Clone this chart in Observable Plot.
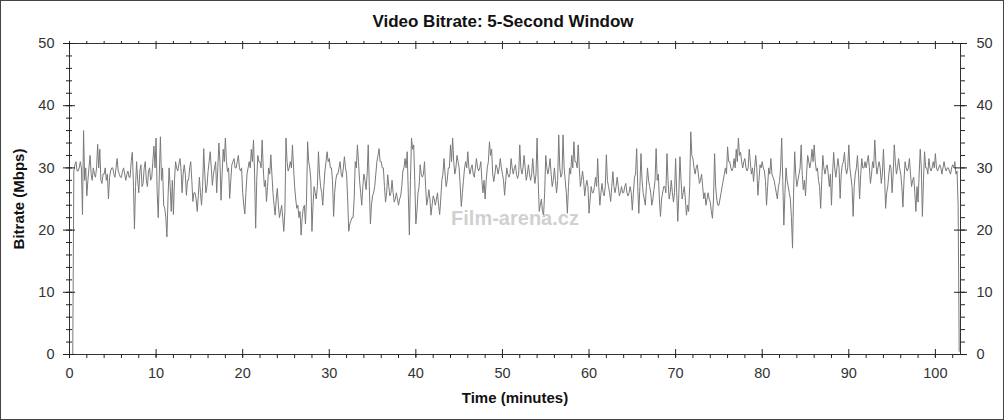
<!DOCTYPE html>
<html><head><meta charset="utf-8">
<script src="https://cdn.jsdelivr.net/npm/d3@7"></script>
<script src="https://cdn.jsdelivr.net/npm/@observablehq/plot@0.6"></script>
<style>
html,body{margin:0;padding:0;background:#fff;}
#chart svg{display:block;outline:1px solid #444;outline-offset:-1px;}
</style></head><body><div id="chart"></div>
<script>
const title = "Video Bitrate: 5-Second Window";
const xLabel = "Time (minutes)";
const yLabel = "Bitrate (Mbps)";
const watermark = "Film-arena.cz";
const stepMinutes = 0.125;
// bitrate in Mbps, one value every 0.125 minute (8 per row = 1 minute)
const bitrate = [
0,0,0,0,29.5,30.5,31,29.5,
29.5,30,31,30,22.5,36,28,30,
25.5,28,30,32,29,28,30,29,
28.5,30,33.8,30,33,28,27.5,29,
29,30,28,29,25,28.5,29.5,30,
30,29,28.5,30,31.5,29.5,29,28.5,
28.5,29.5,30,29,28,29,29.5,28.5,
28.5,31,32.5,28,20.2,27,31,28,
26,29.5,30.5,27,27.5,30,31,28,
27,29.5,30,28,28.5,31,33.5,30,
34.8,26,22,29,35,28,30,24,
23.5,22,18.9,25,30,27,23,28,
22.5,28,31,30,29.5,30.5,31.5,30,
26,29,30.5,29,25.6,28,28,30,
31,28,24.6,26,26,25,23,25.5,
28.5,26,24,27,33.1,29,26,27,
29.4,31,32.6,30,27.2,29,30,31,
26,30,34,31,24.8,29,33,31,
34.8,31,29.4,30,25.1,28,30.5,31,
31.5,30,30,31,32,30,29.5,30,
26,24,22.6,26,29,30,31,30,
33,31,34.5,29,20.3,28,32,31,
31,30,34.5,30,27,28,24.6,27,
30,29,32.1,29,26,24,22.4,25,
26.7,24,22,23,24,22,19.8,23,
34.8,31,29.5,30,31,30,33.7,30,
27,25,23.5,24,22,23,19.2,22,
23.5,24,21,25,34.2,31,30,28,
19.8,24,27,26,25,27,32.6,29,
27,26,24,27,29.5,31,32.6,31,
31.5,30,30,28,22.2,26,28,29,
29,30,31,29,28.5,30,31.8,30,
29,25,19.8,21,21.5,22,22,25,
31,30,33.7,31,28,26,24,27,
29,28,26.5,29,33.7,27,21,24,
25.5,26,27,29,31,32,33.1,31,
31,30,30,27,24.5,26,28.9,27,
25.5,26,28,26,24.5,25,26,25,
24,25,25.5,27,29.5,30,31.5,30,
32.6,26,19.2,28,34.8,33,33.7,28,
21,23,26,27,30.5,29,28.5,29,
31,27,24,25,26.5,25,22.4,24,
25.5,25,24,25,26,24,22.5,25,
28,29,31.5,29,27,28,30,30,
33.7,31,34.8,31,29,30,32,31,
30,27,23.8,26,28,30,31,30,
32.6,30,29,30,30.5,29,28.5,30,
31.5,30,29.5,30,31,28,26,28,
25,28,30,31,34.2,32,33,29,
27.8,29,30.5,30,29,30,31.5,30,
29,28,25.6,28,30,29,28.5,29,
31.5,30,29,30,30.5,29,28.3,29,
33.7,30,29,30,32,30,28,29,
30.5,29,28,29,31.5,29,27.5,29,
34.8,28,23,24,25,23,22.4,26,
32,30,29,30,31.5,29,27,28,
30,28,26,28,35.3,30,28.5,29,
35.3,30,28,26,22.7,27,30,29,
32,30,34.2,31,31,30,33.7,30,
27,28,29.5,28,25.5,27,28,27,
22.7,25,27,26,26,27,28.5,27,
31.5,27,24,26,27.5,26,25.5,27,
32.1,28,27,26,24.6,27,29.4,27,
26,27,28.5,27,25.5,26,27,26,
26,27,27.5,26,25.5,26,27,26,
23.2,26,28.5,29,33.1,27,22.7,27,
32.3,28,26,25,24,27,30,28,
27,26,24,25,26.5,28,33.1,28,
29,25,22.2,25,26,27,27,26,
32.3,28,25,26,28,26,24.5,26,
31.5,26,21.4,26,31.8,28,25,26,
27,25,22.4,24,23,27,35.8,32,
31.5,30,29,30,30.5,29,27.5,28,
29,27,25,26,24,25,26,25,
24.5,23,21.9,25,32.3,27,25,24,
24,25,26,27,28,29,30,29,
33.4,31,31,30,29.5,30,31.5,30,
33,31,34.8,32,32.5,31,30,31,
31.5,30,29.5,30,33,31,29,30,
27.8,30,32,30,25.6,28,30.5,30,
31,30,29.5,28,24,27,30,29,
31.5,29,28.5,28,27,26,25,27,
27.8,30,34.8,28,20.8,26,30,28,
27,26,25,22,17.1,26,32.6,29,
27,28,29,30,33.7,29,26.5,28,
25.5,29,32,31,30,31,33,31,
33.7,31,29.5,30,28,27,23.5,28,
32,30,29,30,30.5,29,27,29,
24,29,32.5,30,28.5,30,31.5,30,
25.1,29,30.5,31,32.5,30,29,30,
33.7,30,28.5,27,22.2,27,29,30,
32,29,25,29,31.5,30,30,31,
30,31,32,30,27.5,29,31,30,
34.5,31,29,30,31,30,27.5,29,
33,29,23.5,26,27,29,30.5,30,
26,29,33.7,31,29,30,31.5,30,
29,27,23.7,28,31,30,29.5,30,
31.5,29,27,28,28.5,26,23,27,
24.5,29,33,30,22.2,28,32.6,30,
30,29,31.5,30,29.5,30,31,30,
32.3,30,29.5,30,30.5,30,29,30,
31,30,29.5,30,30,29.5,29,30,
30.5,30,31,29,29.5,24,0.5
];
const xMajorTicks = [0,10,20,30,40,50,60,70,80,90,100];
const xMinorTicks = [0,2,4,6,8,10,12,14,16,18,20,22,24,26,28,30,32,34,36,38,40,42,44,46,48,50,52,54,56,58,60,62,64,66,68,70,72,74,76,78,80,82,84,86,88,90,92,94,96,98,100,102];
const yMajorTicks = [0,10,20,30,40,50];
const yMinorTicks = [0,2,4,6,8,10,12,14,16,18,20,22,24,26,28,30,32,34,36,38,40,42,44,46,48,50];

const series = bitrate.map((v, i) => ({minute: i * stepMinutes, mbps: v}));
const blank = () => "";
const tickCol = "#222";
const labCol = "#333";

const chart = Plot.plot({
  width: 1004, height: 420,
  marginLeft: 69, marginRight: 44, marginTop: 43, marginBottom: 66,
  style: {fontFamily: "'Liberation Sans', Arial, sans-serif", background: "#fff", overflow: "visible"},
  x: {domain: [0, 102.9]},
  y: {domain: [0, 50]},
  marks: [
    Plot.line(series, {x: "minute", y: "mbps", stroke: "#7a7a7a", strokeWidth: 1}),
    Plot.text([watermark], {frameAnchor: "middle", dy: 20, fontSize: 20, fontWeight: "bold", fill: "#c8c8c8", fillOpacity: 0.85}),
    Plot.frame({stroke: "#333"}),
    // left axis
    Plot.axisY({anchor: "left", ticks: yMajorTicks, tickSize: 12, dx: 6, tickFormat: blank, label: null, color: tickCol}),
    Plot.axisY({anchor: "left", ticks: yMinorTicks, tickSize: 6, dx: 3, tickFormat: blank, label: null, color: tickCol}),
    Plot.axisY({anchor: "left", ticks: yMajorTicks, tickSize: 0, tickPadding: 15, fontSize: 14.5, label: null, color: labCol}),
    // right axis
    Plot.axisY({anchor: "right", ticks: yMajorTicks, tickSize: 13, dx: -7, tickFormat: blank, label: null, color: tickCol}),
    Plot.axisY({anchor: "right", ticks: yMinorTicks, tickSize: 4, tickFormat: blank, label: null, color: tickCol}),
    Plot.axisY({anchor: "right", ticks: yMajorTicks, tickSize: 0, tickPadding: 16, fontSize: 14.5, label: null, color: labCol}),
    // bottom axis
    Plot.axisX({anchor: "bottom", ticks: xMajorTicks, tickSize: 8, dy: -5, tickFormat: blank, label: null, color: tickCol}),
    Plot.axisX({anchor: "bottom", ticks: xMinorTicks, tickSize: 4, tickFormat: blank, label: null, color: tickCol}),
    Plot.axisX({anchor: "bottom", ticks: xMajorTicks, tickSize: 0, tickPadding: 13, fontSize: 14.5, label: null, color: labCol}),
    // top axis
    Plot.axisX({anchor: "top", ticks: xMajorTicks, tickSize: 5, dy: 5, tickFormat: blank, label: null, color: tickCol}),
    Plot.axisX({anchor: "top", ticks: xMinorTicks, tickSize: 3, tickFormat: blank, label: null, color: tickCol}),
    // titles
    Plot.text([title], {frameAnchor: "top", dx: -12, dy: -21.5, lineAnchor: "middle", fontSize: 17, fontWeight: "bold", fill: "#111"}),
    Plot.text([xLabel], {frameAnchor: "bottom", dy: 44, lineAnchor: "middle", fontSize: 15, fontWeight: "bold", fill: "#111"}),
    Plot.text([yLabel], {frameAnchor: "left", dx: -50, rotate: -90, textAnchor: "middle", lineAnchor: "middle", fontSize: 15, fontWeight: "bold", fill: "#111"})
  ]
});
document.getElementById("chart").append(chart);
</script></body></html>
